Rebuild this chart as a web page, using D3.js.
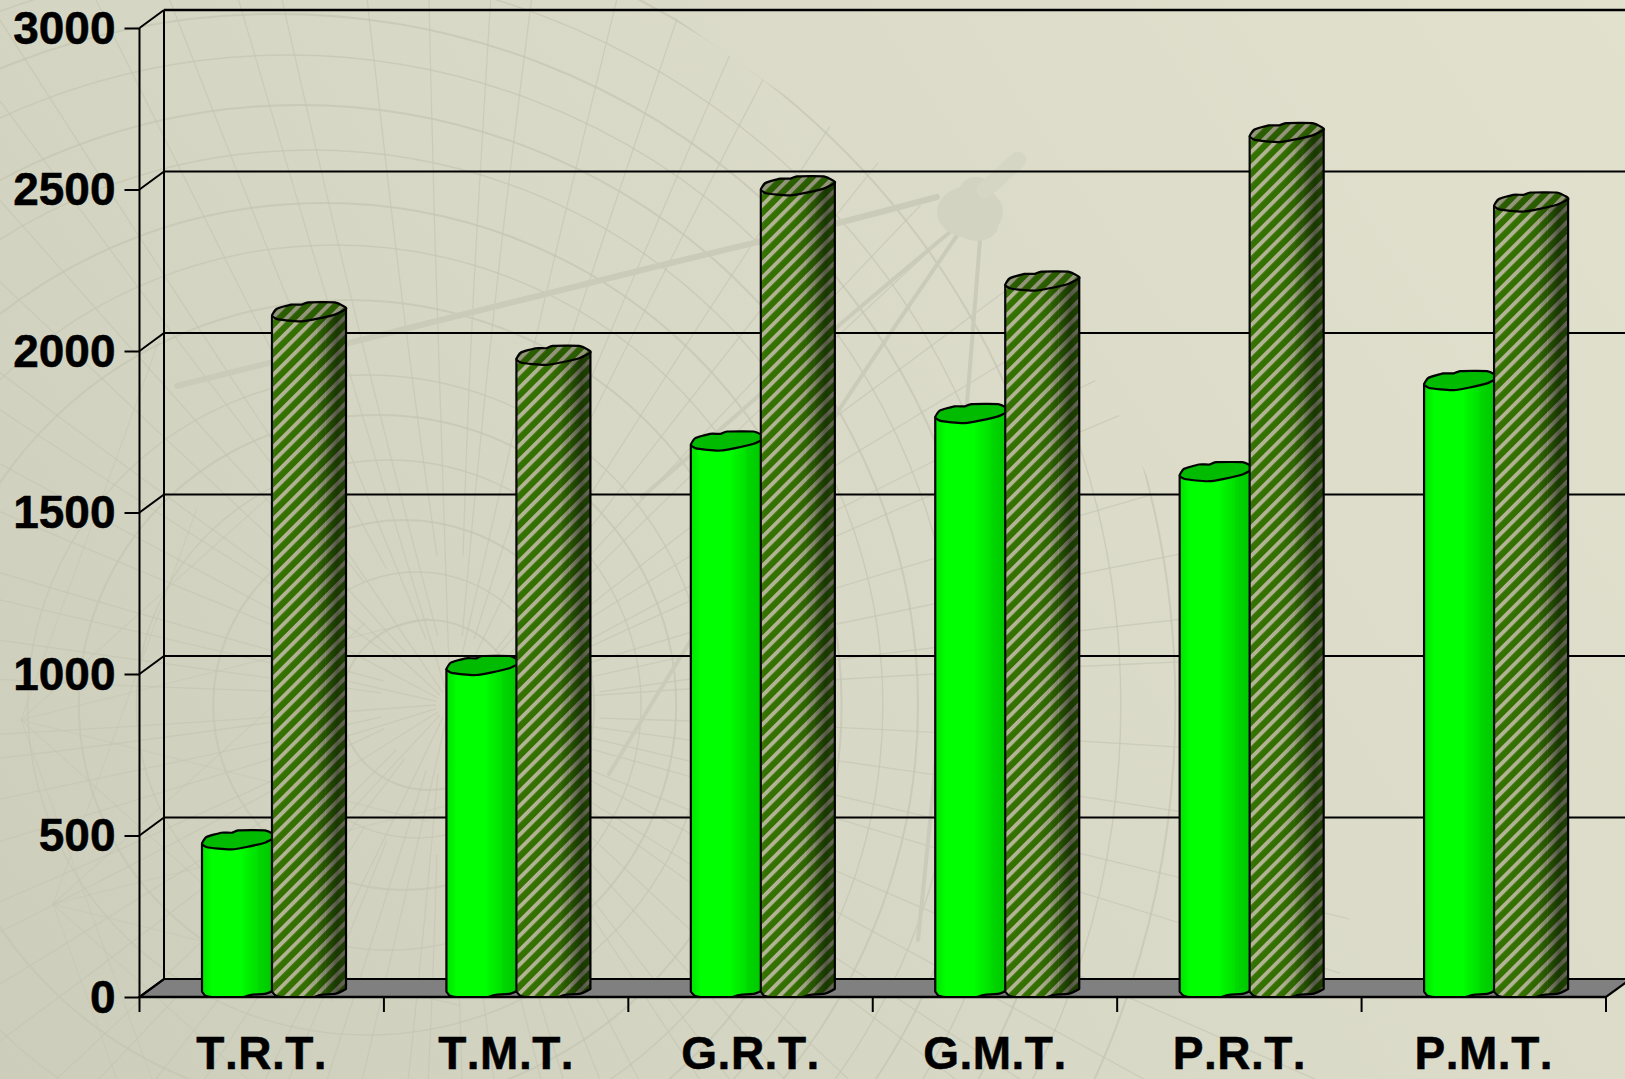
<!DOCTYPE html>
<html><head><meta charset="utf-8">
<style>html,body{margin:0;padding:0;background:#d8d8c6;overflow:hidden}svg{display:block}text{font-family:"Liberation Sans",Arial,sans-serif;font-weight:700;fill:#000}</style>
<script src="https://cdn.jsdelivr.net/npm/d3@7/dist/d3.min.js"></script>
</head><body><svg id="c" width="1625" height="1079"></svg>
<script>
const categories = ["T.R.T.","T.M.T.","G.R.T.","G.M.T.","P.R.T.","P.M.T."];
const seriesNames = ["green","hatched"];
const greenValues = [460,1000,1695,1780,1600,1882];
const hatchedValues = [2095,1960,2485,2190,2650,2435];
const yTickValues = [0,500,1000,1500,2000,2500,3000];

const W=1625,H=1079;
const svg=d3.select("#c");
const defs=svg.append("defs");
function grad(id,stops,attrs){const g=defs.append("linearGradient").attr("id",id);Object.entries(attrs||{}).forEach(([k,v])=>g.attr(k,v));
  stops.forEach(s=>g.append("stop").attr("offset",s[0]).attr("stop-color",s[1]).attr("stop-opacity",s[2]==null?1:s[2]));}
grad("bg",[[0,"#cdcdbb"],[.45,"#d8d8c6"],[1,"#e2e1ce"]],{gradientUnits:"userSpaceOnUse",x1:0,y1:H,x2:W,y2:0});
grad("gFace",[[0,"#00e600"],[.06,"#00ee00"],[.14,"#00ff00"],[.52,"#00ff00"],[.6,"#00f200"],[.74,"#00e200"],[.76,"#00d800"],[.9,"#00cc00"],[1,"#00c400"]]);
grad("hShade",[[0,"#fff",.06],[.08,"#000",0],[.45,"#000",.03],[.59,"#000",.12],[.6,"#000",.06],[.61,"#000",.14],[.71,"#000",.28],[.72,"#000",.2],[.73,"#000",.3],[.88,"#000",.52],[1,"#000",.42]]);
const pat=defs.append("pattern").attr("id","hatch").attr("patternUnits","userSpaceOnUse").attr("width",10.2).attr("height",10.2).attr("patternTransform","rotate(45)");
pat.append("rect").attr("width",10.2).attr("height",10.2).attr("fill","#347200");
pat.append("rect").attr("width",3.9).attr("height",10.2).attr("fill","#b4b596");

// background
svg.append("rect").attr("width",W).attr("height",H).attr("fill","url(#bg)");
defs.append("clipPath").attr("id","wm").append("polygon").attr("points","0,0 650,0 870,155 1110,395 1350,920 1320,1079 0,1079");
const wm=svg.append("g").attr("clip-path","url(#wm)").attr("fill","none").attr("stroke","#c5c5b3");
const fanX=450,fanY=705;
[85,133,185,245,290,330,405,460,502,555,600,650,691,740,800,860,930].forEach((r,i)=>{
  wm.append("ellipse").attr("cx",fanX-0.25*r).attr("cy",fanY).attr("rx",r*1.03).attr("ry",r)
    .attr("stroke-width",i%2?1.4:2).attr("stroke-opacity",.75);
});
d3.range(0,360,5).forEach(a=>{
  const t=a*Math.PI/180, r0=(a%15===0)?14:(a%10===0?70:150), r1=1100;
  const bend=a%20===0?60:30;
  const p=[[fanX+r0*Math.cos(t),fanY+r0*Math.sin(t)],
    [fanX+420*Math.cos(t)+bend*Math.sin(t)*.5,fanY+420*Math.sin(t)-bend*Math.cos(t)*.5],
    [fanX+r1*Math.cos(t)+bend*Math.sin(t),fanY+r1*Math.sin(t)-bend*Math.cos(t)]];
  wm.append("path").attr("d",d3.line().curve(d3.curveBasis)(p)).attr("stroke-width",1.3).attr("stroke-opacity",.65);
});
// secondary mesh vertices at the left edge
[[21,720],[53,904]].forEach(v=>{
  d3.range(-70,80,28).forEach(a=>{
    const t=a*Math.PI/180;
    wm.append("line").attr("x1",v[0]).attr("y1",v[1]).attr("x2",v[0]+420*Math.cos(t)).attr("y2",v[1]+420*Math.sin(t)).attr("stroke-width",1.2).attr("stroke-opacity",.5);
  });
});
const deco=svg.append("g").attr("fill","none").attr("stroke","#cbcbb9").attr("stroke-linecap","round");
const ln=d3.line().curve(d3.curveCatmullRom);
[[[[177,386],[650,268],[762,241],[834,224],[937,197]],6],
 [[[950,232],[837,327],[723,427],[642,497]],4],
 [[[958,234],[837,413],[683,653],[609,774]],4],
 [[[980,240],[967,403],[934,781],[918,940]],4]].forEach(d=>{
  deco.append("path").attr("d",ln(d[0])).attr("stroke-width",d[1]);
});
const lamp=svg.append("g").attr("fill","#d3d3c2");
lamp.append("ellipse").attr("cx",970).attr("cy",212).attr("rx",33).attr("ry",26);
lamp.append("ellipse").attr("cx",977).attr("cy",226).attr("rx",21).attr("ry",15);
lamp.append("ellipse").attr("cx",976).attr("cy",195).attr("rx",18).attr("ry",18);
lamp.append("line").attr("x1",985).attr("y1",190).attr("x2",1018).attr("y2",160).attr("stroke","#d6d6c5").attr("stroke-width",17).attr("stroke-linecap","round");

// scales
const plotL=139.5,plotR=1606,depthX=24.5,depthY=18;
const y=d3.scaleLinear().domain([0,3000]).range([997,28]);
const x0=d3.scaleBand().domain(categories).range([plotL,plotR]);
const x1=d3.scalePoint().domain(seriesNames).range([62.5,132.5]);
const barW=74, midPlane=8.5;

// walls
const grid=svg.append("g").attr("stroke","#000").attr("fill","none");
grid.append("polygon").attr("points",`${plotL},${y(0)} ${plotL+depthX},${y(0)-depthY} ${plotR+depthX},${y(0)-depthY} ${plotR},${y(0)}`)
  .attr("fill","#808080").attr("stroke-width",2.2);
grid.selectAll(".h").data(yTickValues.slice(1)).join("line").attr("x1",plotL+depthX).attr("x2",W)
  .attr("y1",d=>y(d)-depthY).attr("y2",d=>y(d)-depthY).attr("stroke-width",d=>d==3000?2.4:2);
grid.selectAll(".d").data(yTickValues).join("line").attr("x1",plotL).attr("x2",plotL+depthX)
  .attr("y1",d=>y(d)).attr("y2",d=>y(d)-depthY).attr("stroke-width",2);
grid.append("line").attr("x1",plotL+depthX).attr("x2",plotL+depthX).attr("y1",y(3000)-depthY).attr("y2",y(0)-depthY).attr("stroke-width",2);

// axes
const ff='"Liberation Sans",Arial,sans-serif';
const yAxis=svg.append("g").attr("transform",`translate(${plotL},0)`)
  .call(d3.axisLeft(y).tickValues(yTickValues).tickFormat(d3.format("d")).tickSize(15).tickPadding(9));
yAxis.selectAll("text").attr("font-size",46).attr("dy","0.33em").style("font-family",ff).style("font-weight",700).style("stroke","#000").style("stroke-width",.5);
yAxis.selectAll("line").attr("stroke","#000").attr("stroke-width",2);
yAxis.select(".domain").attr("stroke","#000").attr("stroke-width",2).attr("d",`M0,${y(3000)}V${y(0)}`);
const xAxis=svg.append("g").attr("transform",`translate(0,${y(0)})`)
  .call(d3.axisBottom(x0).tickSize(0).tickPadding(39.5));
xAxis.selectAll("text").attr("font-size",46).style("font-family",ff).style("font-weight",700).style("font-kerning","none").style("letter-spacing","0.5px").style("stroke","#000").style("stroke-width",.5).attr("dy","0.71em");
xAxis.select(".domain").attr("stroke","#000").attr("stroke-width",2.4).attr("d",`M${plotL},0H${plotR}`);
xAxis.selectAll(".bd").data(categories.map(c=>x0(c)).concat([plotR])).join("line").attr("x1",d=>d).attr("x2",d=>d)
  .attr("y1",0).attr("y2",15).attr("stroke","#000").attr("stroke-width",2);

// cylinders: outline shapes are fractions of width (x) and px offsets (y)
const topOutline=[[0,0],[.06,-6.7],[.26,-11],[.4,-11],[.49,-13.3],[.85,-13.3],[.98,-9],[1,-6.7],[.85,-1],[.6,3.3],[.4,5.7],[.22,5],[.06,3.3]];
const baseOutline=[[0,-5.3],[.06,-1],[.15,0],[.55,0],[.65,-2],[.85,-3.2],[1,-8]];
const closed=d3.line().curve(d3.curveCardinalClosed.tension(.5));
const data=categories.flatMap((c,i)=>[{c,s:"green",v:greenValues[i]},{c,s:"hatched",v:hatchedValues[i]}]);
const bars=svg.selectAll(".bar").data(data).join("g").attr("class","bar")
  .attr("transform",d=>`translate(${x0(d.c)+x1(d.s)},${y(d.v)-midPlane+3.8})`);
function bodyPath(d){
  const h=y(0)-(y(d.v)-midPlane+3.8);
  const base=baseOutline.map(p=>[p[0]*barW,h+p[1]]);
  return "M0,0L"+base[0]+d3.line().curve(d3.curveMonotoneX)(base).slice(1+base[0].join(",").length)+`L${barW},${-6.7}Z`;
}
bars.append("path").attr("d",bodyPath).attr("fill",d=>d.s=="green"?"url(#gFace)":"url(#hatch)").attr("stroke","#000").attr("stroke-width",2.2).attr("stroke-linejoin","round");
bars.filter(d=>d.s=="hatched").append("path").attr("d",bodyPath).attr("fill","url(#hShade)");
bars.append("path").attr("d",closed(topOutline.map(p=>[p[0]*barW,p[1]]))).attr("fill",d=>d.s=="green"?"#00bb00":"url(#hatch)").attr("stroke","#000").attr("stroke-width",2.2);
bars.filter(d=>d.s=="hatched").append("path").attr("d",closed(topOutline.map(p=>[p[0]*barW,p[1]]))).attr("fill","#000").attr("fill-opacity",.18);
</script></body></html>
